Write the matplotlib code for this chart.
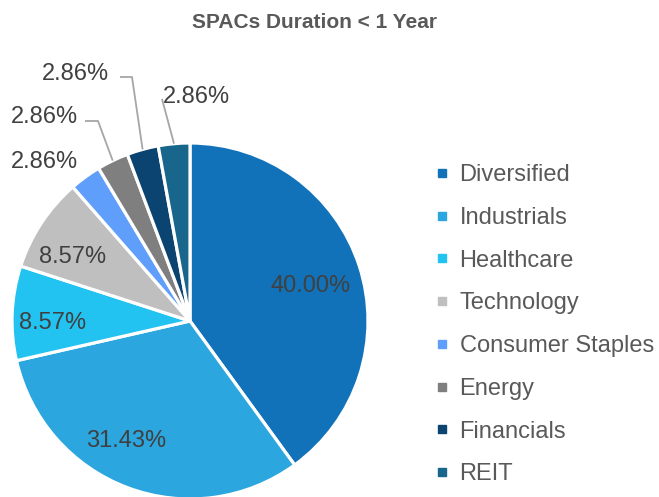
import numpy as np
import matplotlib.pyplot as plt
from matplotlib.lines import Line2D

sectors = ['Diversified', 'Industrials', 'Healthcare', 'Technology',
           'Consumer Staples', 'Energy', 'Financials', 'REIT']
shares = [40.00, 31.43, 8.57, 8.57, 2.86, 2.86, 2.86, 2.86]
colors = ['#1172B9', '#2BA6DE', '#22C3F1', '#BFBFBF',
          '#5F9EFB', '#7F7F7F', '#0B4470', '#18668C']
title = 'SPACs Duration < 1 Year'

W, H = 659, 497
plt.rcParams['font.family'] = ['Liberation Sans', 'DejaVu Sans']

fig = plt.figure(figsize=(W / 100, H / 100), dpi=100)
ax = fig.add_axes([0, 0, 1, 1])

cx, cy, r = 190, H - 321, 178
wedges, _ = ax.pie(shares, colors=colors, startangle=90, counterclock=False,
                   center=(cx, cy), radius=r,
                   wedgeprops=dict(edgecolor='white', linewidth=2.3))
ax.set_xlim(0, W)
ax.set_ylim(0, H)
ax.set_aspect('equal')
ax.axis('off')

# labels inside the big slices (small pixel nudges, like excel's placement)
nudges = [(-1, -5), (-19, 0), (-9, -8), (-10, -7)]
for w, v, (nx, ny) in zip(wedges[:4], shares[:4], nudges):
    a = np.deg2rad((w.theta1 + w.theta2) / 2)
    ax.text(cx + 0.72 * r * np.cos(a) + nx, cy + 0.72 * r * np.sin(a) + ny,
            f'{v:.2f}%', ha='center', va='center', fontsize=17, color='#404040')

# small slices: text placed outside, some with leader lines (pixel coords from top)
outside = {4: ((44, 160), None),
           5: ((44, 115), [(98, 121), (85, 121)]),
           6: ((75, 72), [(132, 77), (120, 77)]),
           7: ((196, 95), [(162, 99)])}
for i, (pos, elbow) in outside.items():
    w = wedges[i]
    ax.text(pos[0], H - pos[1] - 2, f'{shares[i]:.2f}%', ha='center', va='center',
            fontsize=17, color='#404040')
    if elbow:
        a = np.deg2rad((w.theta1 + w.theta2) / 2)
        xs = [cx + r * np.cos(a)] + [p[0] for p in elbow]
        ys = [cy + r * np.sin(a)] + [H - p[1] for p in elbow]
        ax.plot(xs, ys, color='#A6A6A6', lw=1.3, solid_capstyle='butt')

handles = [Line2D([], [], ls='none', marker='s', markersize=6, color=c) for c in colors]
leg = ax.legend(handles, sectors, loc='upper left', bbox_to_anchor=(436 / W, 1 - 164 / H),
                frameon=False, fontsize=17, handlelength=0.5, handletextpad=0.5,
                labelspacing=0.88, borderpad=0, borderaxespad=0)
for t in leg.get_texts():
    t.set_color('#595959')

fig.text(315 / W, 1 - 23 / H, title, ha='center', va='center', fontsize=15,
         fontweight='bold', color='#595959')

fig.savefig('out.png', dpi=100)
